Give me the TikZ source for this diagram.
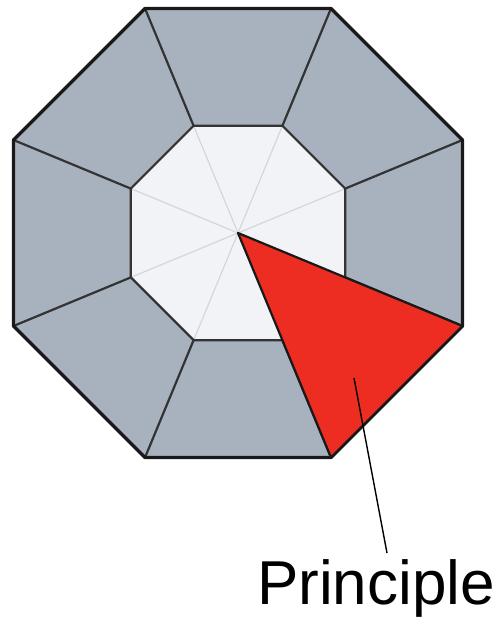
\documentclass[tikz,border=0pt]{standalone}
\usepackage{fontspec}
\setmainfont{Liberation Sans}
\usetikzlibrary{calc}
\definecolor{slate}{HTML}{A8B2BF}
\definecolor{pale}{HTML}{F1F3F6}
\definecolor{faint}{HTML}{D3D6DB}
\definecolor{alarm}{HTML}{EE2D22}

\begin{document}
\begin{tikzpicture}[x=1pt,y=1pt,
rim/.style={draw=black!90,line width=3.4pt,line join=round},
spoke/.style={draw=black!80,line width=2.2pt},
ray/.style={draw=faint,line width=1.2pt},
wedge/.style={fill=alarm,draw=black!90,line width=2.2pt,line join=round},
lead/.style={draw=black,line width=1.4pt}]
\useasboundingbox (0,0) rectangle (503,619);
\coordinate (c) at (238,386);
\foreach \k in {0,...,7}{
  \coordinate (o\k) at ($(c)+({22.5+45*\k}:243)$);
  \coordinate (i\k) at ($(c)+({22.5+45*\k}:116)$);
}
% outer ring and inner octagon
\fill[slate] (o0) \foreach \k in {1,...,7}{--(o\k)} --cycle;
\fill[pale] (i0) \foreach \k in {1,...,7}{--(i\k)} --cycle;
\foreach \k in {0,...,7}{
  \draw[ray] (c)--(i\k);
  \draw[spoke] (i\k)--(o\k);
}
\draw[spoke] (i0) \foreach \k in {1,...,7}{--(i\k)} --cycle;
\draw[rim] (o0) \foreach \k in {1,...,7}{--(o\k)} --cycle;
% the highlighted sector
\draw[wedge] (c)--(o7)--(o6)--cycle;
\node[font=\fontsize{62}{70}\selectfont,anchor=base west,inner sep=0] (principle) at (257,15) {Principle};
\coordinate (tip) at (354,241);
\coordinate (foot) at (387,66);
\draw[lead] (tip)--(foot);
\end{tikzpicture}
\end{document}
